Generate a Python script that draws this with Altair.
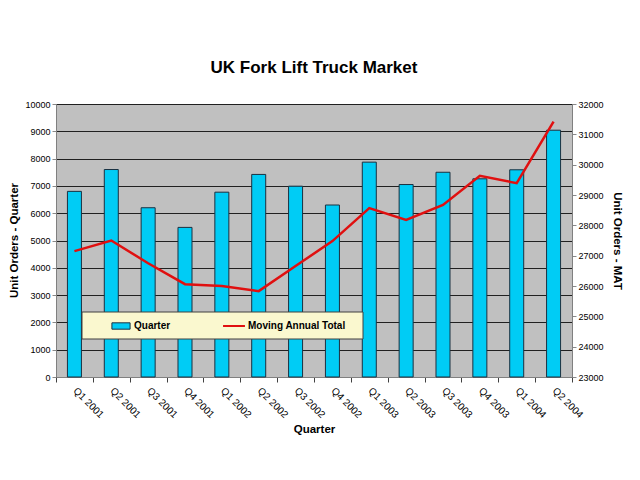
import altair as alt
import pandas as pd

quarters = ["Q1 2001", "Q2 2001", "Q3 2001", "Q4 2001", "Q1 2002", "Q2 2002", "Q3 2002",
            "Q4 2002", "Q1 2003", "Q2 2003", "Q3 2003", "Q4 2003", "Q1 2004", "Q2 2004"]
quarter_orders = [6800, 7600, 6200, 5480, 6770, 7420, 6990, 6300, 7870, 7050, 7500, 7260, 7590, 9040]
mat = [27150, 27500, 26750, 26060, 26000, 25830, 26660, 27480, 28570, 28180, 28670, 29630, 29390, 31420]

df = pd.DataFrame({
    "quarter": quarters,
    "orders": quarter_orders,
    "mat": mat,
    "s1": ["Quarter"] * len(quarters),
    "s2": ["Moving Annual Total"] * len(quarters),
})

FONT = "Liberation Sans"
x_enc = alt.X("quarter:N", sort=quarters, scale=alt.Scale(paddingInner=0, paddingOuter=0),
              axis=alt.Axis(title="Quarter", labelAngle=45, labelAlign="left", labelBaseline="middle",
                            labelPadding=7, tickBand="extent", tickSize=5, titleFontWeight="bold",
                            titleFontSize=11.5, titlePadding=4, labelFontSize=10,
                            domainColor="#808080", tickColor="#404040"))

base = alt.Chart(df)

bars = base.mark_bar(width=alt.RelativeBandSize(0.38), stroke="#1a3040", strokeWidth=1).encode(
    x=x_enc,
    y=alt.Y("orders:Q", scale=alt.Scale(domain=[0, 10000], nice=False),
            axis=alt.Axis(title="Unit Orders - Quarter", values=list(range(0, 10001, 1000)), format="d",
                          grid=True, gridColor="#202020", tickSize=4, titleFontWeight="bold",
                          titleFontSize=11.5, labelFontSize=9, labelPadding=2,
                          titleX=-37, titleY=136, titleAngle=-90, titleAlign="center",
                          titleBaseline="bottom", domainColor="#808080")),
    fill=alt.Fill("s1:N", scale=alt.Scale(domain=["Quarter"], range=["#00CCF5"]),
                  legend=alt.Legend(title=None, orient="none", legendX=55, legendY=212,
                                    symbolType="M-1,-0.35H1V0.35H-1Z", symbolSize=330,
                                    symbolStrokeColor="#1a3040", symbolStrokeWidth=1,
                                    labelFontWeight="bold", labelFontSize=10, labelFont=FONT,
                                    labelOffset=3)),
)

legend_bg = alt.Chart(pd.DataFrame({"a": [0]})).mark_rect(fill="#FAF8CF", stroke="#404040", strokeWidth=1).encode(
    x=alt.value(26), x2=alt.value(307), y=alt.value(208), y2=alt.value(235)
)

line = base.mark_line(strokeWidth=2.5).encode(
    x=x_enc,
    y=alt.Y("mat:Q", scale=alt.Scale(domain=[23000, 32000], nice=False),
            axis=alt.Axis(title="Unit Orders - MAT", values=list(range(23000, 32001, 1000)), format="d",
                          grid=False, tickSize=4, titleFontWeight="bold", titleFontSize=11.5,
                          labelFontSize=9, labelPadding=2, titlePadding=8, domainColor="#808080")),
    stroke=alt.Stroke("s2:N", scale=alt.Scale(domain=["Moving Annual Total"], range=["#E01010"]),
                      legend=alt.Legend(title=None, orient="none", legendX=166, legendY=210,
                                        symbolType="stroke", symbolSize=480, symbolStrokeWidth=2,
                                        labelFontWeight="bold", labelFontSize=10, labelFont=FONT,
                                        labelOffset=2)),
)

chart = alt.layer(bars, legend_bg, line).resolve_scale(y="independent").properties(
    width=516, height=273,
    autosize=alt.AutoSizeParams(type="none"),
    padding={"left": 48, "top": 96, "right": 60, "bottom": 80},
    title=alt.TitleParams("UK Fork Lift Truck Market", fontSize=17, fontWeight="bold", font=FONT,
                          anchor="middle", offset=23, color="#000"),
).configure(font=FONT).configure_view(fill="#C0C0C0", stroke="#808080").configure_axis(
    labelFont=FONT, titleFont=FONT, labelColor="#000", titleColor="#000"
)

chart.save("out.html", embed_options={"renderer": "svg", "actions": False})
